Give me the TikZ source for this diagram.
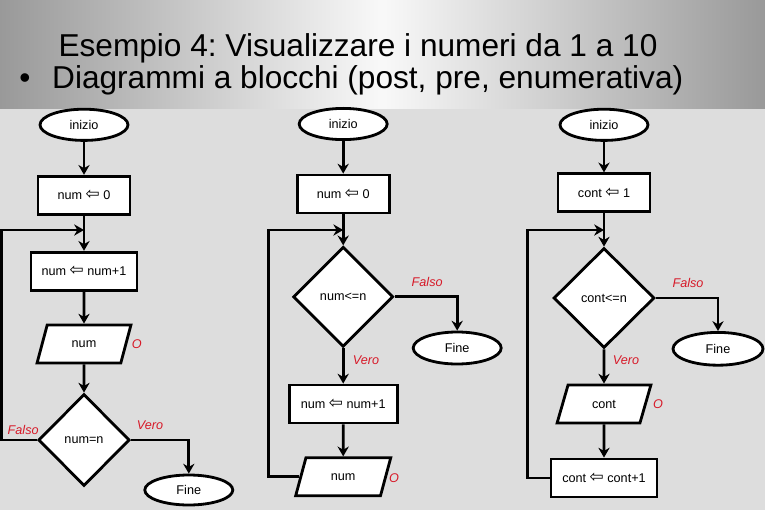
\documentclass[tikz,border=0pt]{standalone}
\usepackage{fontspec}
\setmainfont{Liberation Sans}
\newfontfamily\symbfont{DejaVu Sans}
\usetikzlibrary{shapes.geometric,arrows.meta,positioning}
\definecolor{rossoLabel}{RGB}{215,25,40}
\definecolor{grigioFondo}{RGB}{221,221,221}
\newcommand{\assegna}{{\symbfont\fontsize{12}{12}\selectfont\char"21E6}}
\frenchspacing

\begin{document}
\begin{tikzpicture}[
        every node/.style={font=\fontsize{9}{10}\selectfont},
        term/.style={ellipse,draw,fill=white,line width=2pt,inner sep=0pt,
                     minimum width=2.2cm,minimum height=0.78cm},
        proc/.style={rectangle,draw,fill=white,line width=2pt,
                     minimum height=0.95cm},
        io/.style={trapezium,trapezium left angle=74,trapezium right angle=106,
                   trapezium stretches=true,draw,fill=white,line width=2pt,
                   minimum width=2.35cm,minimum height=0.95cm},
        cond/.style={diamond,draw,fill=white,line width=2pt,inner sep=0pt},
        lbl/.style={text=rossoLabel,font=\fontsize{9}{10}\selectfont\itshape},
        tit/.style={font=\fontsize{22.5}{27}\selectfont},
        arr/.style={-{Stealth[length=7pt,width=8pt]},line width=2pt},
        lin/.style={line width=2pt}]
        % sfondo
        \fill[grigioFondo] (0,-2.7) rectangle (19.125,-12.75);
        \shade[left color=gray!80,right color=gray!80,middle color=white!95!gray]
          (0,0) rectangle (19.125,-2.7);
        % titolo
        \node[tit,anchor=base] (titolo) at (8.95,-1.42) {Esempio 4: Visualizzare i numeri da 1 a 10};
        \node[tit,anchor=base] (punto) at (0.62,-2.2) {\textbullet};
        \node[tit,anchor=base west] (sottotitolo) at (1.18,-2.2) {Diagrammi a blocchi (post, pre, enumerativa)};
        % post-condizione
        \node[term] (ini1) at (2.1,-3.12) {inizio};
        \node[proc,minimum width=2.3cm] (asg1) at (2.1,-4.88) {num \assegna{} 0};
        \coordinate (j1) at (2.1,-5.75);
        \node[proc,minimum width=2.65cm] (inc1) at (2.1,-6.78) {num \assegna{} num+1};
        \node[io] (out1) at (2.1,-8.6) {num};
        \node[lbl] (o1) at (3.42,-8.6) {O};
        \node[cond,minimum width=2.28cm,minimum height=2.3cm] (dec1) at (2.1,-11.0) {num=n};
        \node[lbl] (f1) at (0.58,-10.75) {Falso};
        \node[lbl] (v1) at (3.75,-10.62) {Vero};
        \node[term,minimum height=0.75cm] (fin1) at (4.72,-12.25) {Fine};
        \draw[arr] (ini1) -- (asg1);
        \draw[lin] (asg1) -- (j1);
        \draw[arr] (j1) -- (inc1);
        \draw[arr] (inc1) -- (out1);
        \draw[arr] (out1) -- (dec1);
        \draw[arr] (dec1.west) -- ++(-0.88,0) |- (j1);
        \draw[arr] (dec1.east) -| (fin1.north);
        % pre-condizione
        \node[term] (ini2) at (8.58,-3.1) {inizio};
        \node[proc,minimum width=2.3cm] (asg2) at (8.58,-4.85) {num \assegna{} 0};
        \coordinate (j2) at (8.58,-5.75);
        \node[cond,minimum width=2.5cm,minimum height=2.5cm] (dec2) at (8.58,-7.42) {num<=n};
        \node[lbl] (f2) at (10.68,-7.05) {Falso};
        \node[term,minimum height=0.8cm] (fin2) at (11.43,-8.7) {Fine};
        \node[lbl] (v2) at (9.15,-9.0) {Vero};
        \node[proc,minimum width=2.7cm] (inc2) at (8.58,-10.1) {num \assegna{} num+1};
        \node[io,minimum width=2.38cm] (out2) at (8.58,-11.92) {num};
        \node[lbl] (o2) at (9.85,-11.95) {O};
        \draw[arr] (ini2) -- (asg2);
        \draw[lin] (asg2) -- (j2);
        \draw[arr] (j2) -- (dec2);
        \draw[arr] (dec2.east) -| (fin2.north);
        \draw[arr] (dec2) -- (inc2);
        \draw[arr] (inc2) -- (out2);
        \draw[arr] (out2.west) -- ++(-0.78,0) |- (j2);
        % enumerativa
        \node[term] (ini3) at (15.1,-3.12) {inizio};
        \node[proc,minimum width=2.3cm] (asg3) at (15.1,-4.82) {cont \assegna{} 1};
        \coordinate (j3) at (15.1,-5.75);
        \node[cond,minimum width=2.52cm,minimum height=2.5cm] (dec3) at (15.1,-7.45) {cont<=n};
        \node[lbl] (f3) at (17.2,-7.08) {Falso};
        \node[term,minimum width=2.25cm,minimum height=0.82cm] (fin3) at (17.95,-8.72) {Fine};
        \node[lbl] (v3) at (15.65,-9.0) {Vero};
        \node[io] (out3) at (15.1,-10.1) {cont};
        \node[lbl] (o3) at (16.45,-10.1) {O};
        \node[proc,minimum width=2.65cm] (inc3) at (15.1,-11.95) {cont \assegna{} cont+1};
        \draw[arr] (ini3) -- (asg3);
        \draw[lin] (asg3) -- (j3);
        \draw[arr] (j3) -- (dec3);
        \draw[arr] (dec3.east) -| (fin3.north);
        \draw[arr] (dec3) -- (out3);
        \draw[arr] (out3) -- (inc3);
        \draw[arr] (inc3.west) -- ++(-0.55,0) |- (j3);
      \end{tikzpicture}
\end{document}
